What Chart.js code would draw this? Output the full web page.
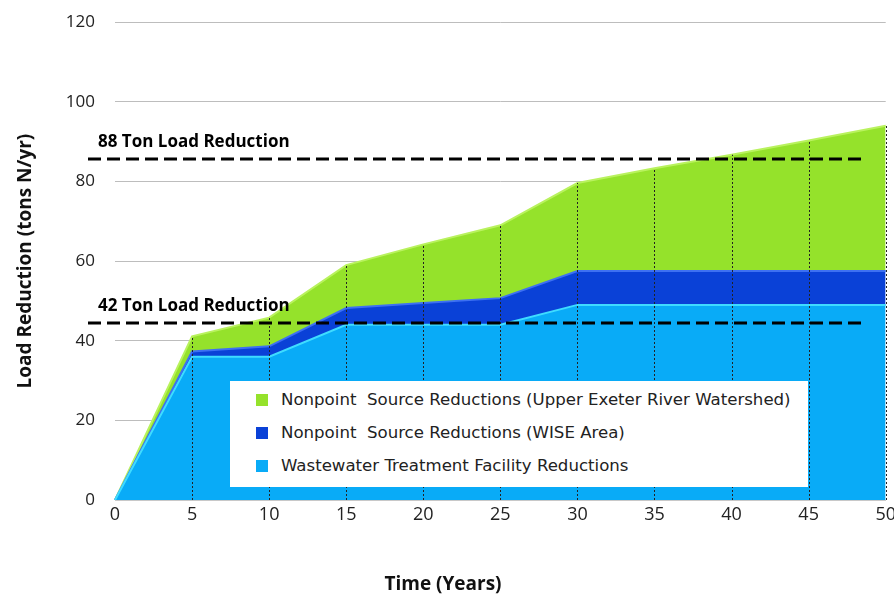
<!DOCTYPE html>
<html>
<head>
<meta charset="utf-8">
<script src="https://cdn.jsdelivr.net/npm/chart.js@4"></script>
<style>
    html, body { margin: 0; padding: 0; background: #fff; overflow: hidden; }
    #wrap { position: relative; width: 894px; height: 595px; overflow: hidden; }
    #chart { position: absolute; left: 0; top: -8px; }
    #legend {
        position: absolute; left: 230px; top: 381px; width: 578px; height: 106px;
        background: #fff; font-family: "DejaVu Sans", sans-serif; font-size: 16.6px; color: #222;
        box-sizing: border-box; padding-top: 2px;
    }
    #legend div { height: 33px; line-height: 33px; padding-left: 26px; white-space: pre; }
    #legend span { display: inline-block; width: 12px; height: 12px; margin-right: 13px; vertical-align: -1px; }
    #xtitle {
        position: absolute; left: 343px; width: 200px; top: 570px; text-align: center;
        font: bold 19px "Open Sans", sans-serif; color: #111;
    }
</style>
</head>
<body>
<div id="wrap">
    <canvas id="chart" width="900" height="603"></canvas>
    <div id="legend"></div>
    <div id="xtitle">Time (Years)</div>
</div>
<script>
// Chart data
const years = ['0', '5', '10', '15', '20', '25', '30', '35', '40', '45', '50'];
const wastewater = [0, 36, 36, 44, 44, 44, 49, 49, 49, 49, 49];
const wiseArea = [0, 1.3, 2.6, 4.2, 5.5, 6.7, 8.5, 8.5, 8.5, 8.5, 8.5];
const upperExeter = [0, 3.8, 7.2, 10.8, 14.7, 18.3, 22.1, 25.8, 29.2, 32.8, 36.5];
const targetValues = [85.75, 44.5];
const targetLabels = ['88 Ton Load Reduction', '42 Ton Load Reduction'];
const seriesNames = [
    'Wastewater Treatment Facility Reductions',
    'Nonpoint  Source Reductions (WISE Area)',
    'Nonpoint  Source Reductions (Upper Exeter River Watershed)'
];
const fillColors = ['#09abf7', '#0a41d7', '#95e22b'];
const edgeColors = ['#3fdcff', '#3d70f2', '#b9f25e'];

// vertical dotted lines + dashed target lines
const overlayPlugin = {
    id: 'overlay',
    afterDatasetsDraw(chart) {
        const ctx = chart.ctx;
        const x = chart.scales.x;
        const y = chart.scales.y;
        const area = chart.chartArea;

        ctx.save();
        ctx.strokeStyle = '#222';
        ctx.lineWidth = 1;
        ctx.setLineDash([2, 2]);
        years.forEach((yr, i) => {
            if (i === 0) return;
            const total = wastewater[i] + wiseArea[i] + upperExeter[i];
            const px = Math.round(x.getPixelForValue(i)) + 0.5;
            ctx.beginPath();
            ctx.moveTo(px, y.getPixelForValue(0));
            ctx.lineTo(px, y.getPixelForValue(total));
            ctx.stroke();
        });

        ctx.setLineDash([13, 6]);
        ctx.lineWidth = 3;
        ctx.strokeStyle = '#000';
        ctx.fillStyle = '#000';
        ctx.font = 'bold 17px "Open Sans", sans-serif';
        ctx.textBaseline = 'alphabetic';
        targetValues.forEach((v, i) => {
            const py = Math.round(y.getPixelForValue(v));
            ctx.beginPath();
            ctx.moveTo(area.left - 27, py);
            ctx.lineTo(area.right - 23, py);
            ctx.stroke();
            ctx.fillText(targetLabels[i], area.left - 17, py - 12);
        });
        ctx.restore();
    }
};

const seriesData = [wastewater, wiseArea, upperExeter];

new Chart(document.getElementById('chart'), {
    type: 'line',
    data: {
        labels: years,
        datasets: seriesData.map((d, i) => ({
            label: seriesNames[i],
            data: d,
            fill: i === 0 ? 'origin' : '-1',
            backgroundColor: fillColors[i],
            borderColor: edgeColors[i],
            borderWidth: 2,
            pointRadius: 0,
            tension: 0
        }))
    },
    options: {
        responsive: false,
        animation: false,
        layout: { padding: { top: 12, right: 9 } },
        plugins: {
            legend: { display: false },
            tooltip: { enabled: false }
        },
        scales: {
            x: {
                offset: false,
                grid: { display: false, drawTicks: false },
                border: { display: true, color: '#c8c8c8', width: 1 },
                ticks: {
                    padding: 4,
                    maxRotation: 0,
                    autoSkip: false,
                    color: '#222',
                    font: { family: '"Open Sans", sans-serif', size: 18 }
                },
                afterFit: (scale) => { scale.height = 95; }
            },
            y: {
                stacked: true,
                min: 0,
                max: 120,
                ticks: {
                    stepSize: 20,
                    padding: 20,
                    color: '#222',
                    font: { family: '"Open Sans", sans-serif', size: 17 }
                },
                grid: { color: '#bdbdbd', lineWidth: 1, drawTicks: false },
                border: { display: false },
                title: {
                    display: true,
                    text: 'Load Reduction (tons N/yr)',
                    color: '#111',
                    padding: { top: 14, bottom: 0 },
                    font: { family: '"Open Sans", sans-serif', size: 19, weight: 'bold' }
                },
                afterFit: (scale) => { scale.width = 115; }
            }
        }
    },
    plugins: [overlayPlugin]
});

// HTML legend, top series first
const legend = document.getElementById('legend');
[2, 1, 0].forEach(i => {
    const row = document.createElement('div');
    row.innerHTML = `<span style="background:${fillColors[i]}"></span>${seriesNames[i]}`;
    legend.appendChild(row);
});
</script>
</body>
</html>
